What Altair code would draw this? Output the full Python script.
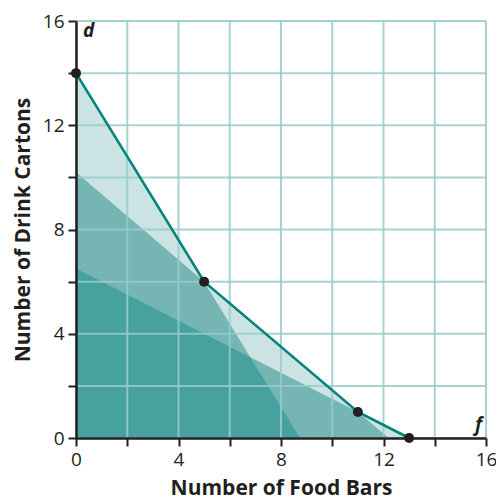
import altair as alt
import pandas as pd

# Production possibilities frontier (kinked) — vertices
frontier_x = [0, 5, 11, 13]
frontier_y = [14, 6, 1, 0]

# boundary of region lying under two of the three extended segments
mid_x = [0, 5, 6.8, 11, 12.2]
mid_y = [10.2, 6, 3.1, 1, 0]

# boundary of region lying under all three extended segments
low_x = [0, 6.8, 8.75]
low_y = [6.5, 3.1, 0]

grid_vals = [0, 2, 4, 6, 8, 10, 12, 14, 16]

W, H = 410, 417
FONT = "Open Sans"

front = pd.DataFrame({"x": frontier_x, "y": frontier_y})
mid = pd.DataFrame({"x": mid_x, "y": mid_y})
low = pd.DataFrame({"x": low_x, "y": low_y})
grid = pd.DataFrame({"g": grid_vals})

xscale = alt.Scale(domain=[0, 16], nice=False, zero=False)
yscale = alt.Scale(domain=[0, 16], nice=False, zero=False)

xaxis = alt.Axis(
    values=grid_vals, grid=False, title="Number of Food Bars",
    labelExpr="datum.value % 4 == 0 ? datum.label : ''", labelFlush=False,
    domainColor="#231f20", domainWidth=2.5, tickColor="#231f20", tickWidth=2,
    tickSize=8, labelFont=FONT, labelFontSize=19, labelColor="#231f20",
    labelPadding=4, titleFont=FONT, titleFontSize=21, titleFontWeight="bold",
    titleColor="#231f20", titlePadding=8, zindex=1,
)
yaxis = alt.Axis(
    values=grid_vals, grid=False, title="Number of Drink Cartons",
    labelExpr="datum.value % 4 == 0 ? datum.label : ''", labelFlush=False,
    domainColor="#231f20", domainWidth=2.5, tickColor="#231f20", tickWidth=2,
    tickSize=8, labelFont=FONT, labelFontSize=19, labelColor="#231f20",
    labelPadding=4, titleFont=FONT, titleFontSize=21, titleFontWeight="bold",
    titleColor="#231f20", titlePadding=9, zindex=1,
)

def area(df, color):
    return alt.Chart(df).mark_area(color=color, opacity=1, line=False).encode(
        x=alt.X("x:Q", scale=xscale, axis=xaxis),
        y=alt.Y("y:Q", scale=yscale, axis=yaxis),
    )

a1 = area(front, "#cbe3e2")
a2 = area(mid, "#75b5b3")
a3 = area(low, "#46a19f")

vgrid = alt.Chart(grid).mark_rule(color="#96cdca", strokeWidth=2, opacity=0.85).encode(
    x=alt.X("g:Q", scale=xscale), y=alt.value(0), y2=alt.value(H)
)
hgrid = alt.Chart(grid).mark_rule(color="#96cdca", strokeWidth=2, opacity=0.85).encode(
    y=alt.Y("g:Q", scale=yscale), x=alt.value(0), x2=alt.value(W)
)

line = alt.Chart(front).mark_line(color="#00847c", strokeWidth=2.6).encode(
    x=alt.X("x:Q", scale=xscale), y=alt.Y("y:Q", scale=yscale)
)
pts = alt.Chart(front).mark_circle(color="#231f20", size=100, opacity=1).encode(
    x=alt.X("x:Q", scale=xscale), y=alt.Y("y:Q", scale=yscale)
)

lbl_d = alt.Chart(pd.DataFrame({"t": ["d"]})).mark_text(
    font=FONT, fontSize=19, fontWeight="bold", fontStyle="italic",
    color="#231f20", align="left", baseline="middle"
).encode(text="t:N", x=alt.value(7), y=alt.value(10))
lbl_f = alt.Chart(pd.DataFrame({"t": ["f"]})).mark_text(
    font=FONT, fontSize=19, fontWeight="bold", fontStyle="italic",
    color="#231f20", align="right", baseline="middle"
).encode(text="t:N", x=alt.value(W - 4), y=alt.value(H - 13))

chart = alt.layer(a1, a2, a3, vgrid, hgrid, line, pts, lbl_d, lbl_f).properties(
    width=W, height=H,
    autosize=alt.AutoSizeParams(type="none"),
    padding={"left": 68, "top": 13, "right": 10, "bottom": 66},
).configure_view(stroke=None).configure(background="white")

chart.save("out.html", embed_options={"renderer": "svg", "actions": False})
